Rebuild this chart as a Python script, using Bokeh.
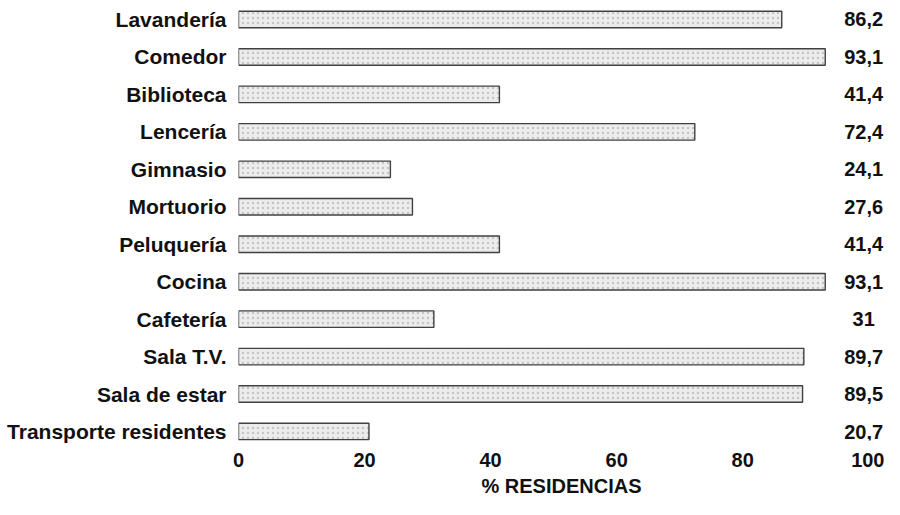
from bokeh.plotting import figure
from bokeh.models import Range1d, FixedTicker, ColumnDataSource
from bokeh.embed import file_html
from bokeh.resources import INLINE
from bokeh.core.properties import value

categories = ["Lavandería", "Comedor", "Biblioteca", "Lencería", "Gimnasio",
              "Mortuorio", "Peluquería", "Cocina", "Cafetería", "Sala T.V.",
              "Sala de estar", "Transporte residentes"]
values = [86.2, 93.1, 41.4, 72.4, 24.1, 27.6, 41.4, 93.1, 31.0, 89.7, 89.5, 20.7]
x_ticks = [0, 20, 40, 60, 80, 100]
x_title = "% RESIDENCIAS"


def fmt(v):
    s = f"{v:.1f}".replace(".", ",")
    return s[:-2] if s.endswith(",0") else s


labels = [fmt(v) for v in values]
idx = list(range(len(categories)))
src = ColumnDataSource(dict(y=idx, right=values, label=labels, cat=categories))

p = figure(width=884, height=499, output_backend="svg", toolbar_location=None,
           x_range=Range1d(0, 102.5), y_range=Range1d(11.24, -0.507),
           min_border_left=238, min_border_right=0, min_border_top=0,
           min_border_bottom=59)
p.outline_line_color = None
p.xgrid.grid_line_color = None
p.ygrid.grid_line_color = None
p.background_fill_color = "white"

p.hbar(y="y", left=0, right="right", height=0.44, source=src,
       fill_color="#ececec", line_color="#404040", line_width=1.4,
       hatch_pattern="dot", hatch_color="#7a7a7a", hatch_scale=5, hatch_alpha=0.35)

p.text(x=99.2, y="y", text="label", source=src, text_align="center",
       text_baseline="middle", text_font=value("Liberation Sans"),
       text_font_style="bold", text_font_size="20px", text_color="#111111")

ya = p.yaxis[0]
ya.ticker = FixedTicker(ticks=idx)
ya.major_label_overrides = {i: c for i, c in enumerate(categories)}
ya.axis_line_color = None
ya.major_tick_line_color = None
ya.minor_tick_line_color = None
ya.major_label_standoff = 6
ya.major_label_text_font = "Liberation Sans"
ya.major_label_text_font_style = "bold"
ya.major_label_text_font_size = "21px"
ya.major_label_text_color = "#111111"

xa = p.xaxis[0]
xa.ticker = FixedTicker(ticks=x_ticks)
xa.axis_line_color = None
xa.major_tick_line_color = None
xa.minor_tick_line_color = None
xa.major_label_standoff = 6
xa.major_label_text_font = "Liberation Sans"
xa.major_label_text_font_style = "bold"
xa.major_label_text_font_size = "20px"
xa.major_label_text_color = "#111111"
xa.axis_label = x_title
xa.axis_label_standoff = 5
xa.axis_label_text_font = "Liberation Sans"
xa.axis_label_text_font_style = "bold"
xa.axis_label_text_font_size = "20px"
xa.axis_label_text_color = "#111111"

open("out.html", "w").write(file_html(p, INLINE))
